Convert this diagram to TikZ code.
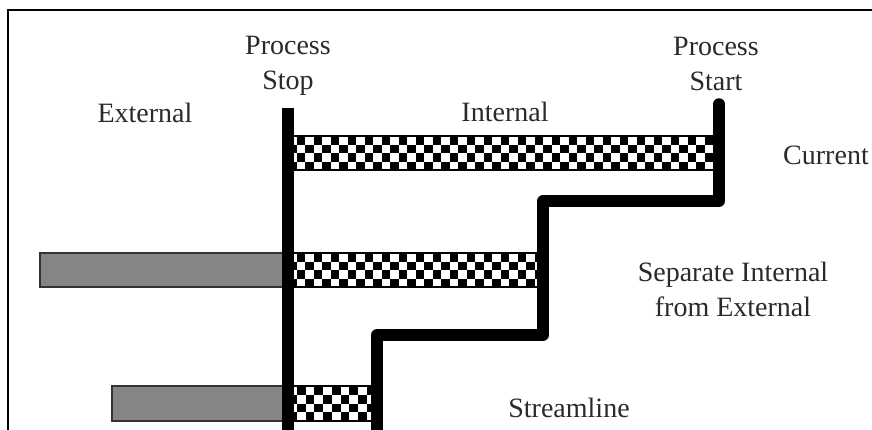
\documentclass[tikz,border=0pt]{standalone}
\usepackage{fontspec}
\setmainfont{Liberation Serif}
\definecolor{barGray}{HTML}{858585}
\definecolor{txtGray}{HTML}{2A2A2A}
\tikzset{
  lbl/.style={text=txtGray, font=\fontsize{28}{35}\selectfont, align=center, inner sep=0pt},
  barframe/.style={draw=black, line width=1.5pt},
  graybar/.style={draw=black!80, line width=1.5pt, fill=barGray},
  thickline/.style={line width=11.5pt, line join=round},
  frameline/.style={line width=1.2pt, draw=black}
}
% checkered bar: x1 y1 x2 y2 ncols
\newcommand{\chkbar}[5]{%
  \fill[white] (#1,#2) rectangle (#3,#4);
  \begin{scope}
    \clip (#1,#2) rectangle (#3,#4);
    \pgfmathsetmacro{\cellsz}{(#4-#2)/4}
    \foreach \ci in {0,...,#5}{
      \foreach \cj in {0,...,3}{
        \ifodd\numexpr\ci+\cj\relax
          \fill[black] ({#1+\ci*\cellsz},{#2+\cj*\cellsz}) rectangle ++(\cellsz,\cellsz);
        \fi
      }
    }
  \end{scope}
  \draw[barframe] (#1,#2) rectangle (#3,#4);
}
\begin{document}
\begin{tikzpicture}[x=1pt,y=-1pt]
\useasboundingbox (0,0) rectangle (872,429);
\clip (0,0) rectangle (872,429);
% frame
\draw[frameline] (8,440) -- (8,10) -- (880,10);
% bars
\chkbar{288}{136}{719}{170}{52}
\draw[graybar] (40,253) rectangle (288,287);
\chkbar{288}{253}{543}{287}{31}
\draw[graybar] (112,386) rectangle (288,421);
\chkbar{288}{386}{377}{421}{11}
% process lines
\coordinate (stopTop) at (288,108);
\coordinate (stopBot) at (288,445);
\draw[thickline] (stopTop) -- (stopBot);
\coordinate (startTop) at (719,104);
\coordinate (s1) at (719,201);
\coordinate (s2) at (543,201);
\coordinate (s3) at (543,335);
\coordinate (s4) at (377,335);
\coordinate (s5) at (377,445);
\draw[thickline, line cap=round] (startTop) -- (s1) -- (s2) -- (s3) -- (s4) -- (s5);
% labels
\node[lbl] (stoplbl) at (288,66) {Process\\Stop};
\node[lbl] (startlbl) at (716,64) {Process\\Start};
\node[lbl] (ext) at (145,113) {External};
\node[lbl] (int) at (505,112) {Internal};
\node[lbl] (cur) at (826,155) {Current};
\node[lbl] (sep) at (733,289) {Separate Internal\\from External};
\node[lbl] (stream) at (569,408) {Streamline};
\end{tikzpicture}
\end{document}
